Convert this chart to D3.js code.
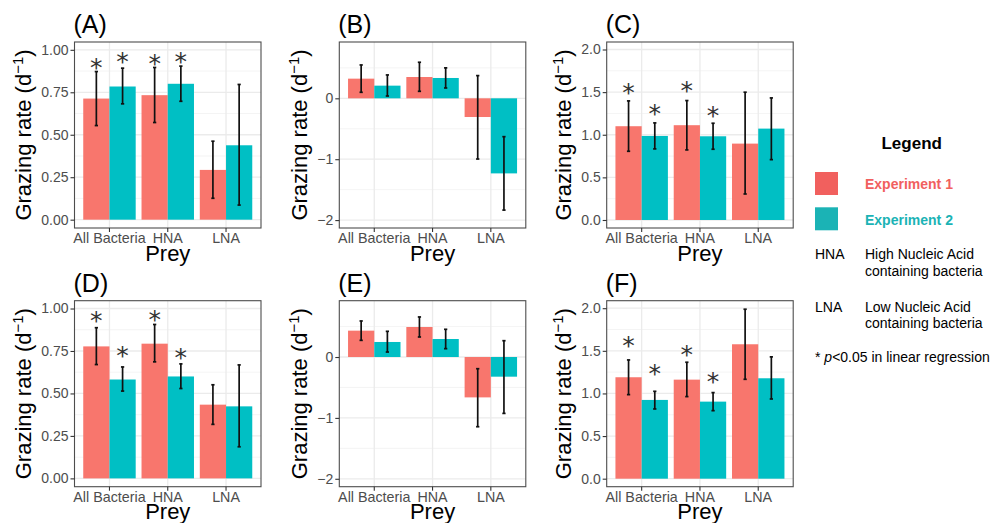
<!DOCTYPE html>
<html><head><meta charset="utf-8">
<script src="https://cdn.jsdelivr.net/npm/d3@7"></script>
<style>
body{margin:0;background:#fff}
svg{display:block}
text{font-family:"Liberation Sans",Arial,Helvetica,sans-serif}
</style>
</head><body>
<svg id="chart" width="995" height="523"></svg>
<script>
// ---------- DATA ----------
const categories = ["All Bacteria", "HNA", "LNA"];
const series = ["Experiment 1", "Experiment 2"];
const panelLabels = ["(A)", "(B)", "(C)", "(D)", "(E)", "(F)"];

const A_exp1 = [0.713, 0.733, 0.293];
const A_exp2 = [0.784, 0.800, 0.438];
const A_lo1 = [0.554, 0.572, 0.126];
const A_hi1 = [0.872, 0.896, 0.462];
const A_lo2 = [0.682, 0.697, 0.086];
const A_hi2 = [0.892, 0.904, 0.796];
const A_star1 = [0.921, 0.947, null];
const A_star2 = [0.957, 0.957, null];

const B_exp1 = [0.323, 0.350, -0.307];
const B_exp2 = [0.208, 0.334, -1.233];
const B_lo1 = [0.099, 0.115, -0.997];
const B_hi1 = [0.548, 0.592, 0.373];
const B_lo2 = [0.038, 0.170, -1.836];
const B_hi2 = [0.384, 0.500, -0.630];
const B_star1 = [null, null, null];
const B_star2 = [null, null, null];

const C_exp1 = [1.100, 1.112, 0.896];
const C_exp2 = [0.986, 0.982, 1.072];
const C_lo1 = [0.806, 0.822, 0.305];
const C_hi1 = [1.397, 1.401, 1.499];
const C_lo2 = [0.834, 0.830, 0.708];
const C_hi2 = [1.139, 1.135, 1.432];
const C_star1 = [1.554, 1.569, null];
const C_star2 = [1.307, 1.276, null];

const D_exp1 = [0.777, 0.793, 0.434];
const D_exp2 = [0.582, 0.600, 0.424];
const D_lo1 = [0.670, 0.686, 0.318];
const D_hi1 = [0.887, 0.906, 0.551];
const D_lo2 = [0.514, 0.529, 0.186];
const D_hi2 = [0.656, 0.674, 0.668];
const D_star1 = [0.957, 0.961, null];
const D_star2 = [0.752, 0.738, null];

const E_exp1 = [0.433, 0.493, -0.663];
const E_exp2 = [0.247, 0.296, -0.323];
const E_lo1 = [0.274, 0.329, -1.145];
const E_hi1 = [0.592, 0.658, -0.192];
const E_lo2 = [0.082, 0.137, -0.926];
const E_hi2 = [0.422, 0.455, 0.268];
const E_star1 = [null, null, null];
const E_star2 = [null, null, null];

const F_exp1 = [1.190, 1.162, 1.577];
const F_exp2 = [0.924, 0.904, 1.178];
const F_lo1 = [0.986, 0.963, 1.166];
const F_hi1 = [1.393, 1.366, 1.988];
const F_lo2 = [0.818, 0.798, 0.935];
const F_hi2 = [1.025, 1.010, 1.429];
const F_star1 = [1.616, 1.507, null];
const F_star2 = [1.292, 1.194, null];

const ticksAD = [0, 0.25, 0.5, 0.75, 1.0];
const ticksBE = [-2, -1, 0];
const ticksCF = [0, 0.5, 1.0, 1.5, 2.0];

const legendNotes = [
  ["HNA", "High Nucleic Acid", "containing bacteria"],
  ["LNA", "Low Nucleic Acid", "containing bacteria"]
];

// ---------- LAYOUT / STYLE ----------
const colors = ["#F8766D", "#00BFC4"];
const legendColors = ["#F1605E", "#1BB3B5"];
const colLeft = [74.5, 339.3, 606.7];
const rowTop = [42, 300.7];
const PW = 186.5, PH = 186;

const panels = [
  {exp:[A_exp1,A_exp2], lo:[A_lo1,A_lo2], hi:[A_hi1,A_hi2], star:[A_star1,A_star2], dom:[-0.049,1.046], ticks:ticksAD, fmt:d3.format(".2f"), col:0,row:0},
  {exp:[B_exp1,B_exp2], lo:[B_lo1,B_lo2], hi:[B_hi1,B_hi2], star:[B_star1,B_star2], dom:[-2.13,0.925], ticks:ticksBE, fmt:d3.format("d"), col:1,row:0},
  {exp:[C_exp1,C_exp2], lo:[C_lo1,C_lo2], hi:[C_hi1,C_hi2], star:[C_star1,C_star2], dom:[-0.094,2.088], ticks:ticksCF, fmt:d3.format(".1f"), col:2,row:0},
  {exp:[D_exp1,D_exp2], lo:[D_lo1,D_lo2], hi:[D_hi1,D_hi2], star:[D_star1,D_star2], dom:[-0.049,1.046], ticks:ticksAD, fmt:d3.format(".2f"), col:0,row:1},
  {exp:[E_exp1,E_exp2], lo:[E_lo1,E_lo2], hi:[E_hi1,E_hi2], star:[E_star1,E_star2], dom:[-2.13,0.925], ticks:ticksBE, fmt:d3.format("d"), col:1,row:1},
  {exp:[F_exp1,F_exp2], lo:[F_lo1,F_lo2], hi:[F_hi1,F_hi2], star:[F_star1,F_star2], dom:[-0.094,2.088], ticks:ticksCF, fmt:d3.format(".1f"), col:2,row:1}
];

const svg = d3.select("#chart");

panels.forEach((p, pi) => {
  const L = colLeft[p.col], T = rowTop[p.row];
  const g = svg.append("g");
  const x = d3.scaleBand().domain(categories).range([L, L + PW]).paddingInner(0.1).paddingOuter(0.15);
  const xs = d3.scaleBand().domain(series).range([0, x.bandwidth()]);
  const y = d3.scaleLinear().domain(p.dom).range([T + PH, T]);

  // gridlines
  const tk = p.ticks;
  const minor = [];
  for (let i = 0; i < tk.length - 1; i++) minor.push((tk[i] + tk[i + 1]) / 2);
  const step = tk[1] - tk[0];
  if (tk[tk.length - 1] + step / 2 < p.dom[1]) minor.push(tk[tk.length - 1] + step / 2);
  if (tk[0] - step / 2 > p.dom[0]) minor.push(tk[0] - step / 2);
  g.selectAll(".minor").data(minor).join("line")
    .attr("x1", L).attr("x2", L + PW).attr("y1", d => y(d)).attr("y2", d => y(d))
    .attr("stroke", "#EFEFEF").attr("stroke-width", 0.7);
  g.selectAll(".majory").data(tk).join("line")
    .attr("x1", L).attr("x2", L + PW).attr("y1", d => y(d)).attr("y2", d => y(d))
    .attr("stroke", "#EBEBEB").attr("stroke-width", 1.3);
  g.selectAll(".majorx").data(categories).join("line")
    .attr("x1", d => x(d) + x.bandwidth() / 2).attr("x2", d => x(d) + x.bandwidth() / 2)
    .attr("y1", T).attr("y2", T + PH)
    .attr("stroke", "#EBEBEB").attr("stroke-width", 1.3);

  // bars
  const rows = [];
  categories.forEach((c, ci) => series.forEach((s, si) => {
    rows.push({c, s, si, v: p.exp[si][ci], lo: p.lo[si][ci], hi: p.hi[si][ci], star: p.star[si][ci]});
  }));
  g.selectAll(".bar").data(rows).join("rect")
    .attr("x", d => x(d.c) + xs(d.s))
    .attr("width", xs.bandwidth())
    .attr("y", d => Math.min(y(d.v), y(0)))
    .attr("height", d => Math.abs(y(d.v) - y(0)))
    .attr("fill", d => colors[d.si]);

  // error bars
  const cx = d => x(d.c) + xs(d.s) + xs.bandwidth() / 2;
  const capW = x.step() * 0.028;
  const eb = g.selectAll(".eb").data(rows).join("g").attr("stroke", "#111").attr("stroke-width", 1.7);
  eb.append("line").attr("x1", cx).attr("x2", cx).attr("y1", d => y(d.lo)).attr("y2", d => y(d.hi));
  eb.append("line").attr("x1", d => cx(d) - capW).attr("x2", d => cx(d) + capW).attr("y1", d => y(d.lo)).attr("y2", d => y(d.lo));
  eb.append("line").attr("x1", d => cx(d) - capW).attr("x2", d => cx(d) + capW).attr("y1", d => y(d.hi)).attr("y2", d => y(d.hi));

  // significance stars
  g.selectAll(".star").data(rows.filter(d => d.star != null)).join("text")
    .attr("x", cx).attr("y", d => y(d.star) + 13)
    .attr("text-anchor", "middle").attr("font-size", 25).attr("fill", "#333")
    .style("font-family", "DejaVu Sans")
    .text("*");

  // border
  g.append("rect").attr("x", L).attr("y", T).attr("width", PW).attr("height", PH)
    .attr("fill", "none").attr("stroke", "#4d4d4d").attr("stroke-width", 1.1);

  // axes
  const ya = g.append("g").attr("transform", `translate(${L},0)`)
    .call(d3.axisLeft(y).tickValues(tk).tickFormat(p.fmt).tickSize(4).tickPadding(2));
  ya.select(".domain").remove();
  ya.selectAll("line").attr("stroke", "#333").attr("stroke-width", 1.1);
  ya.selectAll("text").attr("font-size", 14).attr("fill", "#4D4D4D").attr("font-family", null);
  const xa = g.append("g").attr("transform", `translate(0,${T + PH})`)
    .call(d3.axisBottom(x).tickSize(4).tickPadding(1));
  xa.select(".domain").remove();
  xa.selectAll("line").attr("stroke", "#333").attr("stroke-width", 1.1);
  xa.selectAll("text").attr("font-size", 14.3).attr("fill", "#4D4D4D").attr("font-family", null);

  let maxW = 0;
  ya.selectAll("text").each(function () { maxW = Math.max(maxW, this.getComputedTextLength()); });
  const tx = L - 6 - maxW - 10;
  const yt = g.append("text")
    .attr("transform", `translate(${tx},${T + PH / 2}) rotate(-90)`)
    .attr("text-anchor", "middle").attr("font-size", 22).attr("fill", "#000");
  yt.append("tspan").text("Grazing rate (d");
  yt.append("tspan").attr("font-size", 15).attr("dy", -8).text("−1");
  yt.append("tspan").attr("dy", 8).text(")");

  g.append("text").attr("x", L + PW / 2).attr("y", T + PH + 32.5)
    .attr("text-anchor", "middle").attr("font-size", 22).attr("fill", "#000").text("Prey");

  g.append("text").attr("x", L - 1).attr("y", T - 9)
    .attr("font-size", 25).attr("fill", "#000").text(panelLabels[pi]);
});

// ---------- LEGEND ----------
const lg = svg.append("g");
lg.append("text").attr("x", 911.7).attr("y", 149.3).attr("text-anchor", "middle")
  .attr("font-size", 17).attr("font-weight", "bold").text("Legend");
series.forEach((s, i) => {
  lg.append("rect").attr("x", 815).attr("y", 172 + i * 35.3).attr("width", 23).attr("height", 23)
    .attr("fill", legendColors[i]);
  lg.append("text").attr("x", 865).attr("y", 189.3 + i * 35.3)
    .attr("font-size", 14).attr("font-weight", "bold").attr("fill", legendColors[i]).text(s);
});
legendNotes.forEach((n, i) => {
  const by = 259.3 + i * 52.4;
  lg.append("text").attr("x", 815).attr("y", by).attr("font-size", 14).text(n[0]);
  lg.append("text").attr("x", 865).attr("y", by).attr("font-size", 14).text(n[1]);
  lg.append("text").attr("x", 865).attr("y", by + 16.7).attr("font-size", 14).text(n[2]);
});
const note = lg.append("text").attr("x", 815).attr("y", 361.7).attr("font-size", 14);
note.append("tspan").text("* ");
note.append("tspan").attr("font-style", "italic").text("p");
note.append("tspan").text("<0.05 in linear regression");
</script>
</body></html>
